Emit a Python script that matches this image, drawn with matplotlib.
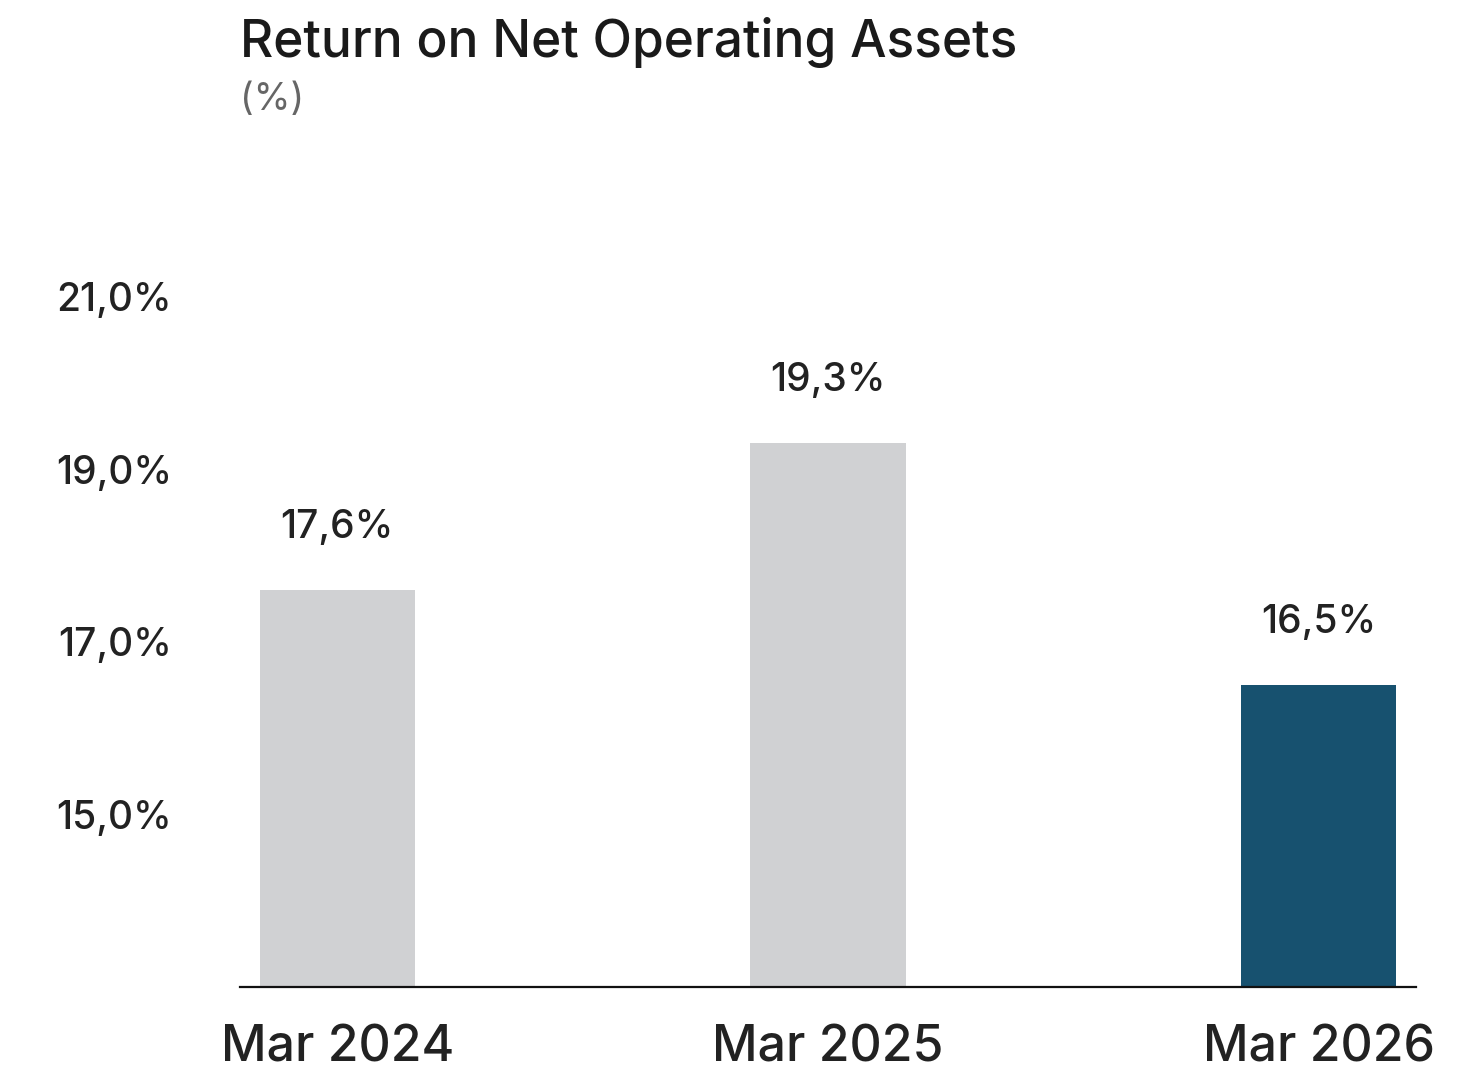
import matplotlib.pyplot as plt
from matplotlib.ticker import FuncFormatter

# Return on net operating assets, in percent
periods = ["Mar 2024", "Mar 2025", "Mar 2026"]
rona = [17.6, 19.3, 16.5]
bar_colors = ["#d0d1d3", "#d0d1d3", "#17516f"]
yticks = [15.0, 17.0, 19.0, 21.0]

plt.rcParams['font.family'] = ['Inter', 'DejaVu Sans']
plt.rcParams['font.weight'] = 'medium'


def pct_comma(v, pos=None):
    return f"{v:.1f}%".replace(".", ",")


fig = plt.figure(figsize=(14.76, 10.76), dpi=100)
ax = fig.add_axes([0.1626, 0.0827, 0.7967, 0.682])

x = range(len(periods))
ax.bar(x, rona, width=0.316, color=bar_colors, bottom=0)

for xi, v in zip(x, rona):
    ax.annotate(f"{v:.1f}%".replace(".", ","), (xi, v), xytext=(0, 45),
                textcoords="offset points", ha="center", va="center",
                fontsize=28, color="#222222")

ax.set_ylim(13.0, 21.5)
ax.set_xlim(-0.198, 2.198)
ax.set_yticks(yticks)
ax.yaxis.set_major_formatter(FuncFormatter(pct_comma))
ax.set_xticks(list(x))
ax.set_xticklabels(periods)

ax.tick_params(axis="y", length=0, pad=49, labelsize=28, labelcolor="#222222")
ax.tick_params(axis="x", length=0, pad=27, labelsize=36, labelcolor="#222222")

for side in ["top", "right", "left"]:
    ax.spines[side].set_visible(False)
ax.spines["bottom"].set_linewidth(1.6)
ax.spines["bottom"].set_color("#111111")

fig.text(240 / 1476, 1 - 42 / 1076, "Return on Net Operating Assets",
         fontsize=37, color="#1a1a1a", va="center", ha="left")
fig.text(240 / 1476, 1 - 100 / 1076, "(%)",
         fontsize=27, color="#666666", va="center", ha="left",
         fontweight="normal")

fig.savefig("out.png", dpi=100, facecolor="white")
